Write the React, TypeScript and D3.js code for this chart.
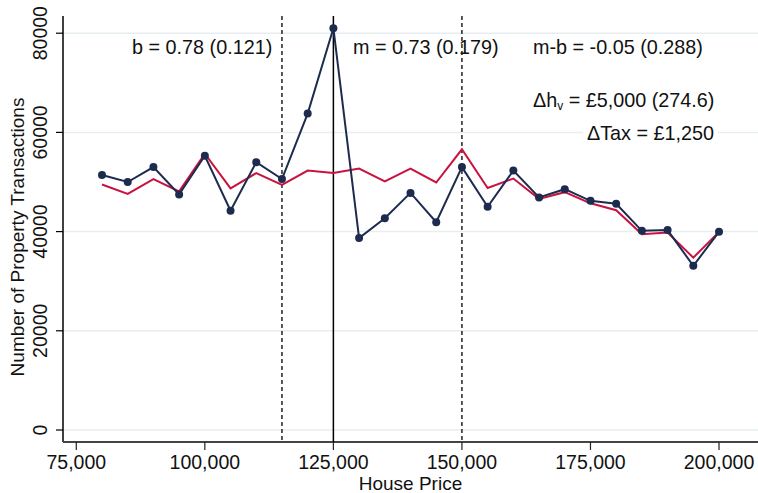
import React, { useEffect, useRef } from 'react'
import * as d3 from 'd3'

// house price bins and transaction counts
const prices = [80000, 85000, 90000, 95000, 100000, 105000, 110000, 115000, 120000, 125000, 130000, 135000, 140000, 145000, 150000, 155000, 160000, 165000, 170000, 175000, 180000, 185000, 190000, 195000, 200000]
const actual = [51400, 50000, 53000, 47500, 55300, 44200, 54000, 50600, 63800, 81000, 38700, 42700, 47800, 41900, 53000, 45000, 52300, 46900, 48550, 46200, 45600, 40150, 40300, 33100, 39950]
const counterfactual = [49500, 47600, 50600, 48100, 55700, 48700, 51800, 49400, 52300, 51800, 52700, 50100, 52700, 49900, 56600, 48800, 50700, 46600, 47950, 45700, 44300, 39450, 39800, 34750, 39950]

const xTicks = [75000, 100000, 125000, 150000, 175000, 200000]
const yTicks = [0, 20000, 40000, 60000, 80000]
const dashedLines = [115000, 150000]
const solidLines = [125000]

const W = 758
const H = 493
const FONT = 'Liberation Sans, Arial, sans-serif'
const NAVY = '#1d2b4f'
const RED = '#c9133f'

export default function App() {
  const ref = useRef<SVGSVGElement>(null)

  useEffect(() => {
    const svg = d3.select(ref.current)
    svg.selectAll('*').remove()

    const left = 63, right = 758, top = 16, bottom = 442
    const x = d3.scaleLinear().domain([72414, 207582]).range([left, right])
    const y = d3.scaleLinear().domain([-2420, 83468]).range([bottom, top])

    // grid
    svg.append('g').selectAll('line').data(yTicks).enter().append('line')
      .attr('x1', left).attr('x2', right)
      .attr('y1', d => y(d)).attr('y2', d => y(d))
      .attr('stroke', '#e6eef2').attr('stroke-width', 1.5)

    // y axis
    svg.append('line').attr('x1', left).attr('x2', left).attr('y1', top).attr('y2', bottom)
      .attr('stroke', '#000').attr('stroke-width', 1.5)
    svg.append('g').selectAll('line').data(yTicks).enter().append('line')
      .attr('x1', left - 7).attr('x2', left).attr('y1', d => y(d)).attr('y2', d => y(d))
      .attr('stroke', '#000').attr('stroke-width', 1.2)
    svg.append('g').selectAll('text').data(yTicks).enter().append('text')
      .attr('transform', d => 'translate(47,' + y(d) + ') rotate(-90)')
      .attr('text-anchor', 'middle').style('font-family', FONT).style('font-size', '19.5px')
      .attr('fill', '#111').text(d => String(d))
    svg.append('text').attr('transform', 'translate(24,' + 237 + ') rotate(-90)')
      .attr('text-anchor', 'middle').style('font-family', FONT).style('font-size', '19px')
      .attr('fill', '#111').text('Number of Property Transactions')

    // x axis
    svg.append('line').attr('x1', left).attr('x2', right).attr('y1', bottom).attr('y2', bottom)
      .attr('stroke', '#444').attr('stroke-width', 2)
    svg.append('g').selectAll('line').data(xTicks).enter().append('line')
      .attr('x1', d => x(d)).attr('x2', d => x(d)).attr('y1', bottom).attr('y2', bottom + 8)
      .attr('stroke', '#222').attr('stroke-width', 1.2)
    svg.append('g').selectAll('text').data(xTicks).enter().append('text')
      .attr('x', d => x(d)).attr('y', 469).attr('text-anchor', 'middle')
      .style('font-family', FONT).style('font-size', '19.5px').attr('fill', '#111')
      .text(d => d3.format(',')(d))
    svg.append('text').attr('x', (left + right) / 2).attr('y', 490).attr('text-anchor', 'middle')
      .style('font-family', FONT).style('font-size', '19px').attr('fill', '#111').text('House Price')

    // reference lines
    svg.append('g').selectAll('line').data(dashedLines).enter().append('line')
      .attr('x1', d => x(d)).attr('x2', d => x(d)).attr('y1', top).attr('y2', bottom)
      .attr('stroke', '#222').attr('stroke-width', 1.5).attr('stroke-dasharray', '4,3')
    svg.append('g').selectAll('line').data(solidLines).enter().append('line')
      .attr('x1', d => x(d)).attr('x2', d => x(d)).attr('y1', top).attr('y2', bottom)
      .attr('stroke', '#000').attr('stroke-width', 1.5)

    // series
    const line = d3.line<number>().x((d, i) => x(prices[i])).y(d => y(d))
    svg.append('path').attr('d', line(counterfactual)).attr('fill', 'none')
      .attr('stroke', RED).attr('stroke-width', 2)
    svg.append('path').attr('d', line(actual)).attr('fill', 'none')
      .attr('stroke', NAVY).attr('stroke-width', 2)
    svg.append('g').selectAll('circle').data(actual).enter().append('circle')
      .attr('cx', (d, i) => x(prices[i])).attr('cy', d => y(d)).attr('r', 4)
      .attr('fill', NAVY)

    // annotations
    const note = (px: number, py: number) => svg.append('text').attr('x', px).attr('y', py)
      .style('font-family', FONT).style('font-size', '19.8px').attr('fill', '#111')
    note(132, 54).text('b = 0.78 (0.121)')
    note(353, 54).text('m = 0.73 (0.179)')
    note(533, 54).text('m-b = -0.05 (0.288)')
    const dh = note(533, 107)
    dh.append('tspan').text('\u0394h')
    dh.append('tspan').attr('dy', 3).style('font-size', '12px').text('v')
    dh.append('tspan').attr('dy', -3).text(' = \u00a35,000 (274.6)')

    const taxBox = svg.append('rect').attr('fill', '#fff')
    const tax = note(587, 140).text('\u0394Tax = \u00a31,250')
    const bb = (tax.node() as SVGTextElement).getBBox()
    taxBox.attr('x', bb.x - 4).attr('y', bb.y).attr('width', bb.width + 8).attr('height', bb.height)
  }, [])

  return (
    <svg ref={ref} width={W} height={H}
      style={{ position: 'absolute', left: 0, top: 0, background: '#fff' }} />
  )
}
